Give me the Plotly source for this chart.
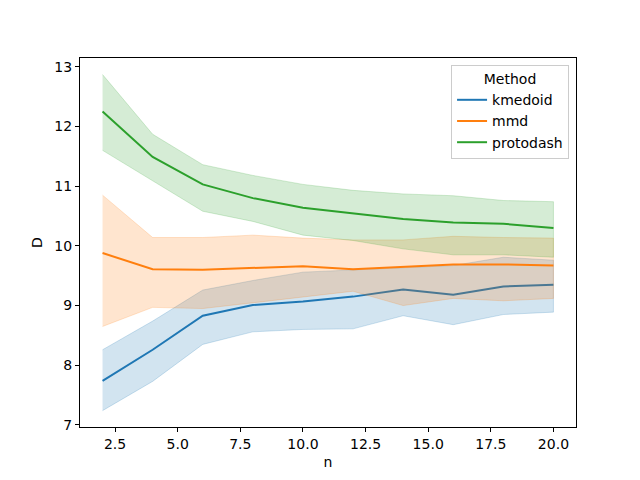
import plotly.graph_objects as go

n_values = [2, 4, 6, 8, 10, 12, 14, 16, 18, 20]

kmedoid_mean = [7.74, 8.26, 8.83, 9.01, 9.07, 9.15, 9.27, 9.18, 9.32, 9.35]
kmedoid_upper = [8.26, 8.74, 9.26, 9.42, 9.56, 9.60, 9.64, 9.67, 9.81, 9.76]
kmedoid_lower = [7.24, 7.73, 8.35, 8.56, 8.60, 8.61, 8.83, 8.68, 8.85, 8.89]

mmd_mean = [9.88, 9.61, 9.60, 9.63, 9.66, 9.61, 9.65, 9.69, 9.69, 9.67]
mmd_upper = [10.85, 10.14, 10.14, 10.18, 10.13, 10.10, 10.10, 10.16, 10.14, 10.13]
mmd_lower = [8.65, 8.97, 8.95, 9.04, 9.14, 9.24, 9.00, 9.12, 9.08, 9.12]

protodash_mean = [12.25, 11.49, 11.03, 10.80, 10.64, 10.54, 10.45, 10.39, 10.37, 10.30]
protodash_upper = [12.87, 11.87, 11.36, 11.18, 11.03, 10.93, 10.87, 10.84, 10.76, 10.74]
protodash_lower = [11.60, 11.09, 10.58, 10.41, 10.18, 10.09, 9.95, 9.85, 9.85, 9.81]

methods = ["kmedoid", "mmd", "protodash"]
colors = {"kmedoid": (31, 119, 180), "mmd": (255, 127, 14), "protodash": (44, 160, 44)}
data = {
    "kmedoid": (kmedoid_mean, kmedoid_lower, kmedoid_upper),
    "mmd": (mmd_mean, mmd_lower, mmd_upper),
    "protodash": (protodash_mean, protodash_lower, protodash_upper),
}

fig = go.Figure()
for m in methods:
    mean, lo, hi = data[m]
    r, g, b = colors[m]
    fig.add_trace(go.Scatter(
        x=n_values + n_values[::-1], y=hi + lo[::-1],
        fill="toself", fillcolor=f"rgba({r},{g},{b},0.2)",
        line=dict(color=f"rgba({r},{g},{b},0.2)", width=1),
        mode="lines", showlegend=False, hoverinfo="skip"))
    fig.add_trace(go.Scatter(
        x=n_values, y=mean, mode="lines", name=m,
        line=dict(color=f"rgb({r},{g},{b})", width=2)))

axis_common = dict(
    showline=True, linecolor="black", linewidth=1, mirror=True,
    ticks="outside", ticklen=4, tickcolor="black", showgrid=False, zeroline=False,
    tickfont=dict(size=14, color="black"),
)
fig.update_layout(
    width=632, height=472,
    margin=dict(l=72, r=64, t=50, b=53),
    plot_bgcolor="white", paper_bgcolor="white",
    font=dict(family="DejaVu Sans", size=14, color="black"),
    xaxis=dict(range=[1.1, 20.9], tickvals=[2.5, 5, 7.5, 10, 12.5, 15, 17.5, 20],
               tickformat=".1f", title=dict(text="n", font=dict(size=14), standoff=6),
               **axis_common),
    yaxis=dict(range=[6.966, 13.147], tickvals=[7, 8, 9, 10, 11, 12, 13],
               title=dict(text="D", font=dict(size=14), standoff=8), **axis_common),
    legend=dict(x=0.986, y=0.981, xanchor="right", yanchor="top",
                bgcolor="rgba(255,255,255,0.8)", bordercolor="#cccccc", borderwidth=1,
                title=dict(text="Method", side="top center", font=dict(size=14)),
                itemwidth=30, font=dict(size=14)),
)
fig.write_html("out.html")
